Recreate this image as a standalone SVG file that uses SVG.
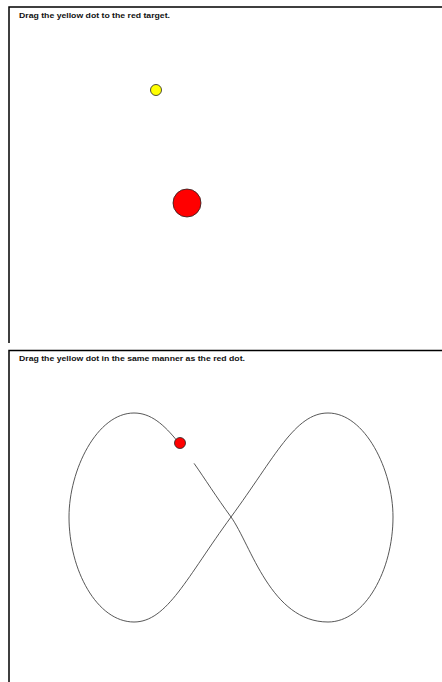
<svg xmlns="http://www.w3.org/2000/svg" width="442" height="682" viewBox="0 0 442 682">
<style>
.frame{fill:none;stroke:#000;stroke-width:1.5}
.lbl{font-family:"Liberation Sans",Arial,sans-serif;font-size:7px;font-weight:bold;fill:#111}
.dot{stroke:#222;stroke-width:0.8}
.trail{fill:none;stroke:#444;stroke-width:0.9}
</style>
<rect width="442" height="682" fill="#fff"/>
<g id="panel1">
<path class="frame" d="M9,343 V7 H442"/>
<text class="lbl" x="19" y="17.5" textLength="151" lengthAdjust="spacingAndGlyphs">Drag the yellow dot to the red target.</text>
<g id="yellow-dot"><circle class="dot" cx="156" cy="90" r="5.5" fill="#ffff00"/></g>
<g id="red-target"><circle class="dot" cx="187" cy="203" r="14" fill="#ff0000"/></g>
</g>
<g id="panel2">
<path class="frame" d="M9,682 V350.5 H442"/>
<text class="lbl" x="19" y="360.5" textLength="226" lengthAdjust="spacingAndGlyphs">Drag the yellow dot in the same manner as the red dot.</text>
<g id="connectors">
<path class="trail" d="M194.06,463.36 C204.62,478.29 216.48,497.2 231,517 C251,545 271,622 328,622"/>
<path class="trail" d="M231,517 C275,457 295,413 328,413 C365,413 393,470 393,517 C393,570 365,622 328,622"/>
<path class="trail" d="M178.4,442.5 C163.75,424 150.5,413 134,413 C97,413 69,470 69,517 C69,570 97,622 134,622 C167,622 187,577 231,517"/>
</g>
<g id="red-dot"><circle class="dot" cx="180" cy="443" r="5.5" fill="#ff0000"/></g>
</g>
</svg>
